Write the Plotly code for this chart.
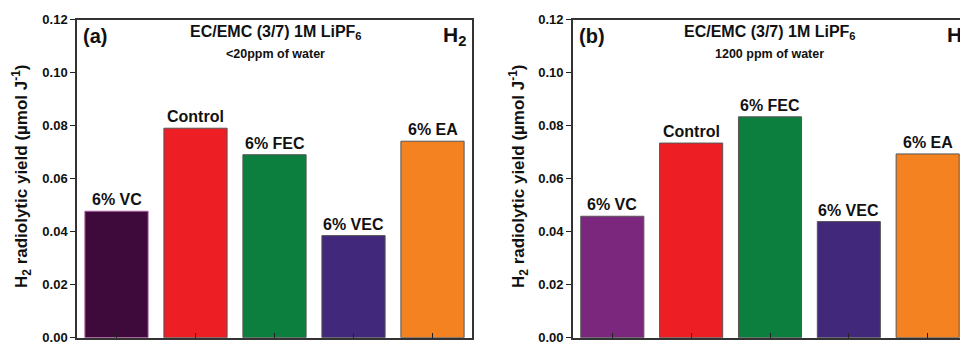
import plotly.graph_objects as go

categories = ["6% VC", "Control", "6% FEC", "6% VEC", "6% EA"]
values_a = [0.0477, 0.0790, 0.0690, 0.0385, 0.0741]
values_b = [0.0458, 0.0734, 0.0833, 0.0438, 0.0693]
colors_a = ["#3D0A3B", "#EE1E25", "#0C7E3E", "#42287A", "#F58220"]
colors_b = ["#7B277D", "#EE1E25", "#0C7E3E", "#42287A", "#F58220"]
outline_a = ["#B0609F", "#555555", "#555555", "#555555", "#555555"]
outline_b = ["#555555"] * 5
y_ticks = [0.00, 0.02, 0.04, 0.06, 0.08, 0.10, 0.12]

W, H = 960, 344
FONT = "Liberation Sans, Arial, sans-serif"

fig = go.Figure()
fig.add_trace(go.Bar(x=categories, y=values_a, width=0.8,
                     marker=dict(color=colors_a, line=dict(color=outline_a, width=1)),
                     xaxis="x", yaxis="y", showlegend=False))
fig.add_trace(go.Bar(x=categories, y=values_b, width=0.8,
                     marker=dict(color=colors_b, line=dict(color=outline_b, width=1)),
                     xaxis="x2", yaxis="y2", showlegend=False))

ydom = [1 - 337.7 / H, 1 - 19.5 / H]
xa = dict(type="category", showticklabels=False, ticks="inside", ticklen=5,
          tickcolor="#222", tickwidth=1.2, showline=True, linecolor="#333",
          linewidth=1.5, mirror=True, showgrid=False, zeroline=False, fixedrange=True,
          automargin=False)
ya = dict(range=[0, 0.12], tickvals=y_ticks,
          ticktext=["<b>%.2f</b>" % t for t in y_ticks], ticks="outside",
          ticklen=5, tickcolor="#222", tickwidth=1.2, showline=True, linecolor="#333",
          linewidth=1.5, showgrid=False, zeroline=False, automargin=False,
          ticklabeloverflow="allow",
          tickfont=dict(family=FONT, size=13, color="#111"))

fig.update_layout(
    width=W, height=H, margin=dict(l=0, r=0, t=0, b=0, pad=0, autoexpand=False),
    paper_bgcolor="white", plot_bgcolor="white",
    font=dict(family=FONT, color="#111"),
    xaxis=dict(xa, domain=[77 / W, 472 / W], range=[-0.5, 4.5], anchor="y"),
    yaxis=dict(ya, domain=ydom, anchor="x", mirror=True),
    xaxis2=dict(xa, domain=[572.9 / W, 1.0], range=[-0.5, 4.41], anchor="y2"),
    yaxis2=dict(ya, domain=ydom, anchor="x2", mirror=False),
    bargap=0.2,
)

def b(t):
    return "<b>" + t + "</b>"

ann = []
for xr, yr, vals in (("x", "y", values_a), ("x2", "y2", values_b)):
    for c, v in zip(categories, vals):
        ann.append(dict(x=c, y=v, xref=xr, yref=yr, text=b(c), showarrow=False,
                        yanchor="bottom", yshift=1,
                        font=dict(family=FONT, size=16, color="#111")))

ytitle = b("H<sub>2</sub> radiolytic yield (µmol J<sup>-1</sup>)")
for xc in (21, 518):
    ann.append(dict(x=xc / W, y=1 - 176 / H, xref="paper", yref="paper", text=ytitle,
                    textangle=-90, showarrow=False, xanchor="center", yanchor="middle",
                    font=dict(family=FONT, size=17, color="#111")))

panels = [("(a)", 80.5, 275.5, "&lt;20ppm of water", 468, "right"),
          ("(b)", 576.7, 769.8, "1200 ppm of water", 945, "left")]
for lab, lx, cx, sub, hx, hanc in panels:
    ann.append(dict(x=lx / W, y=1 - 36 / H, xref="paper", yref="paper", text=b(lab),
                    showarrow=False, xanchor="left", yanchor="middle",
                    font=dict(family=FONT, size=20, color="#111")))
    ann.append(dict(x=cx / W, y=1 - 33 / H, xref="paper", yref="paper",
                    text=b("EC/EMC (3/7) 1M LiPF<sub>6</sub>"),
                    showarrow=False, xanchor="center", yanchor="middle",
                    font=dict(family=FONT, size=16, color="#111")))
    ann.append(dict(x=cx / W, y=1 - 54 / H, xref="paper", yref="paper", text=b(sub),
                    showarrow=False, xanchor="center", yanchor="middle",
                    font=dict(family=FONT, size=12.5, color="#111")))
    ann.append(dict(x=hx / W, y=1 - 36 / H, xref="paper", yref="paper",
                    text=b("H<sub>2</sub>"), showarrow=False, xanchor=hanc, yanchor="middle",
                    font=dict(family=FONT, size=21, color="#111")))

fig.update_layout(annotations=ann)
fig.write_html("out.html")
